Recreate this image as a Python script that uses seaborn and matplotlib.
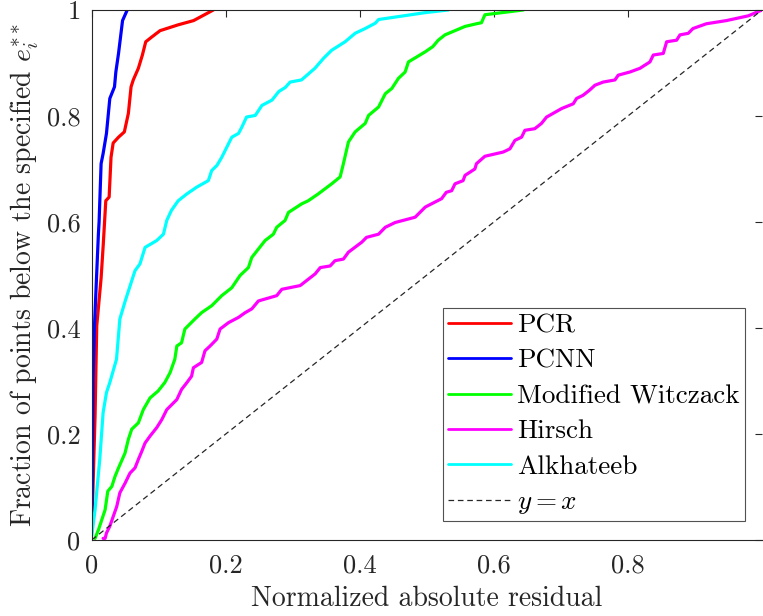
import matplotlib
matplotlib.use("Agg")
import matplotlib.pyplot as plt
import seaborn as sns
import pandas as pd

# Cumulative fraction of points vs. normalized absolute residual
pcr_x = [0.0, 0.001, 0.005, 0.0075, 0.014, 0.0173, 0.021, 0.026, 0.0288, 0.032, 0.040,
         0.0487, 0.0547, 0.0587, 0.062, 0.0696, 0.0756, 0.0806, 0.0896, 0.102, 0.129,
         0.152, 0.1815]
pcr_y = [0.02, 0.058, 0.234, 0.404, 0.494, 0.559, 0.640, 0.647, 0.722, 0.749, 0.760,
         0.770, 0.805, 0.855, 0.868, 0.890, 0.915, 0.940, 0.949, 0.961, 0.972,
         0.980, 1.0]

pcnn_x = [0.0, 0.001, 0.0015, 0.002, 0.004, 0.007, 0.010, 0.011, 0.014, 0.017, 0.022,
          0.027, 0.034, 0.036, 0.040, 0.046, 0.053]
pcnn_y = [0.02, 0.10, 0.20, 0.30, 0.40, 0.49, 0.578, 0.60, 0.710, 0.729, 0.767,
          0.833, 0.855, 0.883, 0.918, 0.980, 1.0]

mw_x = [0.005, 0.010, 0.015, 0.020, 0.024, 0.030, 0.0348, 0.040, 0.0497, 0.0547, 0.0597,
        0.0696, 0.077, 0.087, 0.099, 0.109, 0.117, 0.124, 0.127, 0.134, 0.139, 0.154,
        0.164, 0.179, 0.194, 0.209, 0.2213, 0.2338, 0.2388, 0.2487, 0.2587, 0.271,
        0.276, 0.2885, 0.2935, 0.313, 0.323, 0.338, 0.358, 0.3706, 0.3755, 0.383,
        0.393, 0.408, 0.413, 0.428, 0.438, 0.4478, 0.4576, 0.4676, 0.4725, 0.4975,
        0.509, 0.517, 0.527, 0.542, 0.557, 0.574, 0.5815, 0.5866, 0.644]
mw_y = [0.003, 0.019, 0.038, 0.057, 0.092, 0.101, 0.120, 0.136, 0.164, 0.190, 0.209,
        0.221, 0.246, 0.268, 0.281, 0.297, 0.316, 0.341, 0.366, 0.372, 0.398, 0.417,
        0.429, 0.442, 0.461, 0.476, 0.499, 0.514, 0.533, 0.549, 0.565, 0.577,
        0.590, 0.603, 0.618, 0.634, 0.640, 0.653, 0.672, 0.685, 0.710, 0.751,
        0.770, 0.786, 0.801, 0.817, 0.842, 0.852, 0.871, 0.883, 0.902, 0.921,
        0.931, 0.943, 0.953, 0.961, 0.969, 0.974, 0.976, 0.991, 1.0]

hirsch_x = [0.017, 0.020, 0.022, 0.027, 0.032, 0.0373, 0.042, 0.0497, 0.057, 0.0646,
            0.0696, 0.0746, 0.0796, 0.087, 0.097, 0.1045, 0.112, 0.127, 0.134, 0.142,
            0.149, 0.1517, 0.164, 0.169, 0.1766, 0.1866, 0.1915, 0.204, 0.219, 0.229,
            0.2388, 0.2487, 0.276, 0.2836, 0.311, 0.3333, 0.341, 0.3557, 0.363, 0.3755,
            0.383, 0.403, 0.410, 0.428, 0.438, 0.4527, 0.4825, 0.4975, 0.502, 0.522,
            0.529, 0.537, 0.542, 0.554, 0.557, 0.5716, 0.574, 0.5866, 0.614, 0.6239,
            0.6314, 0.6413, 0.6463, 0.661, 0.671, 0.6786, 0.6885, 0.701, 0.7184, 0.7233,
            0.733, 0.743, 0.7507, 0.763, 0.7806, 0.7855, 0.803, 0.818, 0.8328, 0.8378,
            0.8527, 0.8577, 0.8726, 0.8776, 0.890, 0.897, 0.917, 0.947, 0.9796, 1.0]
hirsch_y = [0.003, 0.003, 0.013, 0.026, 0.044, 0.063, 0.089, 0.107, 0.126, 0.136,
            0.152, 0.167, 0.183, 0.196, 0.212, 0.227, 0.246, 0.265, 0.284, 0.297,
            0.309, 0.325, 0.335, 0.357, 0.366, 0.379, 0.398, 0.410, 0.420, 0.429,
            0.436, 0.451, 0.461, 0.473, 0.480, 0.502, 0.514, 0.517, 0.527, 0.530,
            0.543, 0.562, 0.571, 0.577, 0.590, 0.599, 0.609, 0.628, 0.631, 0.644,
            0.656, 0.659, 0.672, 0.678, 0.688, 0.700, 0.710, 0.724, 0.732, 0.738,
            0.754, 0.760, 0.773, 0.776, 0.786, 0.798, 0.805, 0.814, 0.823, 0.833,
            0.839, 0.849, 0.858, 0.864, 0.868, 0.877, 0.883, 0.890, 0.902, 0.915,
            0.918, 0.940, 0.943, 0.953, 0.956, 0.965, 0.974, 0.980, 0.989, 1.0]

alk_x = [0.0, 0.005, 0.012, 0.017, 0.022, 0.027, 0.037, 0.042, 0.050, 0.0597, 0.0646,
         0.072, 0.0796, 0.097, 0.107, 0.112, 0.119, 0.129, 0.142, 0.157, 0.174, 0.179,
         0.187, 0.194, 0.2015, 0.209, 0.219, 0.224, 0.231, 0.244, 0.254, 0.269, 0.279,
         0.289, 0.296, 0.313, 0.333, 0.346, 0.358, 0.378, 0.393, 0.408, 0.423, 0.428,
         0.4975, 0.532]
alk_y = [0.007, 0.057, 0.152, 0.240, 0.278, 0.297, 0.341, 0.417, 0.451, 0.489, 0.508,
         0.521, 0.552, 0.565, 0.577, 0.603, 0.622, 0.640, 0.653, 0.666, 0.678, 0.697,
         0.707, 0.722, 0.741, 0.760, 0.767, 0.779, 0.798, 0.801, 0.820, 0.830, 0.846,
         0.854, 0.864, 0.868, 0.890, 0.909, 0.924, 0.940, 0.956, 0.965, 0.975, 0.982,
         0.995, 1.0]

series_names = ["PCR", "PCNN", "Modified Witczack", "Hirsch", "Alkhateeb"]
series_colors = ["#FF0000", "#0000FF", "#00FF00", "#FF00FF", "#00FFFF"]
series_data = [(pcr_x, pcr_y), (pcnn_x, pcnn_y), (mw_x, mw_y),
               (hirsch_x, hirsch_y), (alk_x, alk_y)]

frames = []
for name, (xs, ys) in zip(series_names, series_data):
    frames.append(pd.DataFrame({"residual": xs, "fraction": ys, "model": name}))
df = pd.concat(frames, ignore_index=True)

sns.set_theme(style="white")
plt.rcParams["font.family"] = ["cmr10", "DejaVu Serif"]
plt.rcParams["mathtext.fontset"] = "cm"
plt.rcParams["axes.unicode_minus"] = False

axis_color = "#262626"

fig = plt.figure(figsize=(7.63, 6.16), dpi=100)
ax = fig.add_axes([0.1202, 0.1234, 0.8785, 0.8604])

sns.lineplot(data=df, x="residual", y="fraction", hue="model",
             hue_order=series_names, palette=dict(zip(series_names, series_colors)),
             estimator=None, sort=False, linewidth=2.3, ax=ax)

ref = [0.0, 1.0]
ax.plot(ref, ref, color=axis_color, linestyle=(0, (4.5, 3.0)), linewidth=0.9,
        label="$y=x$")

ax.set_xlim(0, 1)
ax.set_ylim(0, 1)
ax.set_xticks([0, 0.2, 0.4, 0.6, 0.8])
ax.set_xticklabels(["0", "0.2", "0.4", "0.6", "0.8"])
ax.set_yticks([0, 0.2, 0.4, 0.6, 0.8, 1.0])
ax.set_yticklabels(["0", "0.2", "0.4", "0.6", "0.8", "1"])
ax.tick_params(axis="both", direction="in", length=5, width=0.8, color=axis_color,
               labelsize=19, labelcolor=axis_color, top=True, right=True)
ax.tick_params(axis="x", pad=10)
ax.tick_params(axis="y", pad=8)

for side in ["left", "bottom", "top"]:
    ax.spines[side].set_color(axis_color)
    ax.spines[side].set_linewidth(0.8)
ax.spines["right"].set_visible(False)

ax.set_xlabel("Normalized absolute residual", fontsize=20, color=axis_color, labelpad=6)
ax.set_ylabel("Fraction of points below the specified $e_i^{**}$", fontsize=20,
              color=axis_color, labelpad=4)

handles, labels = ax.get_legend_handles_labels()
leg = ax.legend(handles, labels, loc="lower left", bbox_to_anchor=(0.524, 0.035),
                borderaxespad=0, fontsize=19.5, frameon=True, fancybox=False,
                handlelength=2.3, handletextpad=0.25, labelspacing=0.42,
                borderpad=0.2)
leg.get_frame().set_edgecolor(axis_color)
leg.get_frame().set_linewidth(0.8)
for line in leg.get_lines()[:5]:
    line.set_linewidth(2.0)
for text in leg.get_texts():
    text.set_color("#000000")

fig.savefig("out.png", dpi=100)
